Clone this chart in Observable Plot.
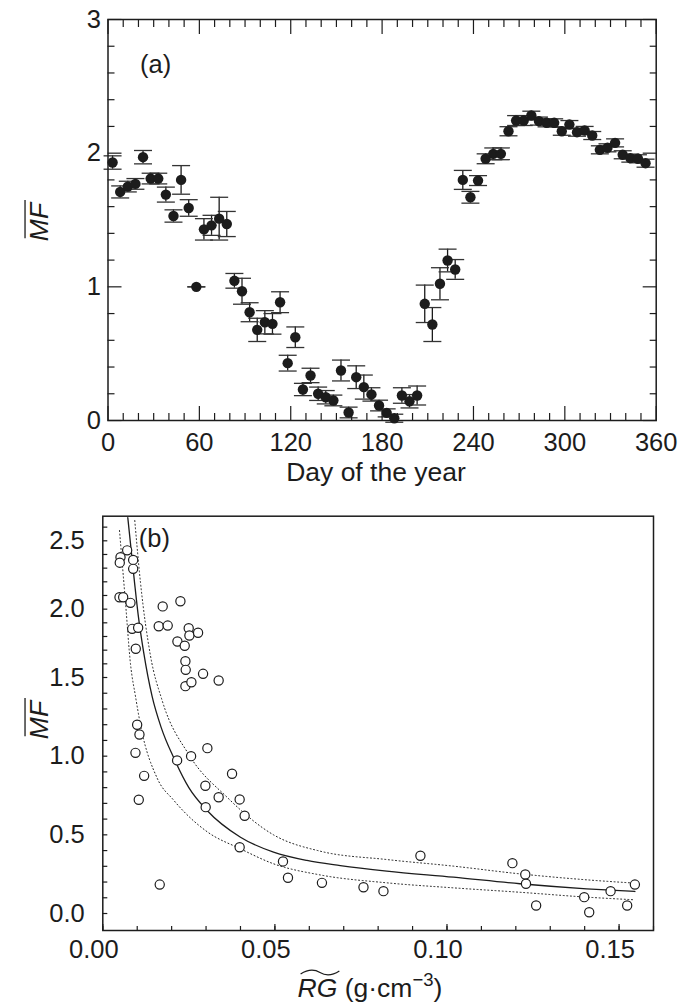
<!DOCTYPE html>
<html><head><meta charset="utf-8">
<script src="https://cdn.jsdelivr.net/npm/d3@7"></script>
<script src="https://cdn.jsdelivr.net/npm/@observablehq/plot@0.6"></script>
<style>
body{margin:0;background:#fff;}
#wrap{position:relative;width:689px;height:1004px;overflow:hidden;background:#fff;}
#wrap svg{position:absolute;left:0;}
</style></head><body><div id="wrap"></div>
<script>
// ---------- Panel (a): mean MF by day of the year ----------
const days = [3,8,13,18,23,28,33,38,43,48,53,58,63,68,73,78,83,88,93,98,103,108,113,118,123,128,133,138,143,148,153,158,163,168,173,178,183,188,193,198,203,208,213,218,223,228,233,238,243,248,253,258,263,268,273,278,283,288,293,298,303,308,313,318,323,328,333,338,343,348,353];
const mfMean = [1.93,1.71,1.75,1.77,1.97,1.81,1.81,1.69,1.53,1.80,1.59,1.00,1.43,1.46,1.51,1.47,1.045,0.967,0.81,0.678,0.735,0.723,0.885,0.429,0.623,0.232,0.337,0.20,0.174,0.15,0.374,0.06,0.324,0.25,0.195,0.112,0.057,0.017,0.187,0.144,0.187,0.873,0.718,1.023,1.197,1.13,1.80,1.67,1.795,1.958,1.995,1.995,2.164,2.244,2.244,2.282,2.24,2.227,2.227,2.164,2.214,2.157,2.17,2.132,2.025,2.04,2.077,1.988,1.963,1.958,1.925];
const mfErr = [0.05,0.045,0.04,0.04,0.05,0.04,0.04,0.056,0.046,0.107,0.062,0,0.08,0.075,0.16,0.094,0.055,0.097,0.071,0.087,0.087,0.077,0.078,0.059,0.077,0.046,0.054,0.05,0.05,0.04,0.078,0.04,0.085,0.09,0.05,0.04,0.03,0.03,0.058,0.05,0.071,0.14,0.127,0.12,0.085,0.074,0.071,0.044,0.037,0.037,0.044,0.044,0.034,0.037,0.037,0.032,0.03,0.03,0.03,0.03,0.03,0.03,0.03,0.03,0.03,0.03,0.03,0.03,0.03,0.03,0.03];
const xTickLabelsA = [0,60,120,180,240,300,360];
const yTickLabelsA = [0,1,2,3];

// ---------- Panel (b): MF vs RG ----------
const rg = [0.00708,0.00514,0.00493,0.00882,0.00882,0.00485,0.00592,0.00804,0.00853,0.01027,0.00958,0.0174,0.02255,0.01625,0.01886,0.02168,0.0238,0.02496,0.02516,0.02768,0.024,0.02409,0.024,0.02574,0.02913,0.03366,0.00998,0.01065,0.00949,0.01201,0.01045,0.01654,0.02159,0.02565,0.03038,0.0298,0.03366,0.03755,0.02989,0.03976,0.04121,0.03976,0.05235,0.0538,0.06367,0.09228,0.07574,0.08154,0.119,0.12275,0.12295,0.1259,0.13987,0.14132,0.14753,0.15235,0.15459];
const mfB = [2.43,2.38,2.34,2.36,2.295,2.087,2.087,2.046,1.856,1.864,1.71,2.02,2.058,1.875,1.88,1.763,1.732,1.86,1.807,1.827,1.619,1.556,1.445,1.47,1.527,1.481,1.2,1.138,1.021,0.875,0.723,0.184,0.973,1.0,1.051,0.812,0.739,0.888,0.676,0.725,0.621,0.421,0.331,0.227,0.195,0.367,0.167,0.142,0.32,0.248,0.189,0.051,0.104,0.008,0.142,0.051,0.184];
const fitRG = [0.00726,0.0092,0.01027,0.0119,0.01433,0.0170,0.0206,0.0250,0.0303,0.0400,0.0496,0.0593,0.0690,0.0825,0.1019,0.1212,0.1406,0.1546];
const fitMF = [2.67,2.20,1.96,1.68,1.38,1.18,0.99,0.80,0.655,0.485,0.39,0.337,0.305,0.27,0.231,0.189,0.157,0.14];
const upRG = [0.00929,0.01094,0.01384,0.01724,0.0250,0.0361,0.0496,0.0632,0.0825,0.1019,0.1212,0.1406,0.1546];
const upMF = [2.648,2.197,1.661,1.354,1.01,0.739,0.50,0.396,0.343,0.301,0.252,0.214,0.193];
const loRG = [0.00485,0.00659,0.00804,0.0095,0.01094,0.0158,0.0206,0.0303,0.0400,0.0496,0.0632,0.0825,0.1019,0.1212,0.1406,0.1546];
const loMF = [2.575,2.05,1.60,1.38,1.20,0.86,0.72,0.52,0.411,0.316,0.245,0.195,0.163,0.135,0.104,0.087];
const xTickLabelsB = [0,0.05,0.10,0.15];
const yTickLabelsB = [0,0.5,1.0,1.5,2.0,2.5];

const ink = "#1c1c1c";
const font = "'Liberation Sans', Arial, Helvetica, sans-serif";
const FS = 25.5;   // tick labels, panel letters
const FT = 26.5;   // axis titles

const dataA = days.map((d, i) => ({day: d, mf: mfMean[i], err: mfErr[i]}));
const dataB = rg.map((r, i) => ({rg: r, mf: mfB[i]}));
const fitLine = fitRG.map((r, i) => ({rg: r, mf: fitMF[i]}));
const upLine = upRG.map((r, i) => ({rg: r, mf: upMF[i]}));
const loLine = loRG.map((r, i) => ({rg: r, mf: loMF[i]}));

const capSymbol = {draw(ctx) { ctx.moveTo(-9, 0); ctx.lineTo(9, 0); }};

const wrap = document.getElementById("wrap");

// inward ticks on one side of the frame
function inTicks(axisFn, anchor, ticks, size) {
  const o = {anchor, ticks, tickSize: size, tickFormat: () => "", label: null, stroke: ink, strokeWidth: 1.2};
  if (anchor === "bottom") o.dy = -size;
  if (anchor === "top") o.dy = size;
  if (anchor === "left") o.dx = size;
  if (anchor === "right") o.dx = -size;
  return axisFn(o);
}

// ---------------- Panel A ----------------
const minorXA = d3.range(0, 361, 10).filter(d => d % 60 !== 0);
const minorYA = d3.range(0, 16).map(i => i / 5).filter(v => Math.abs(v - Math.round(v)) > 1e-6);

const plotA = Plot.plot({
  width: 689, height: 500,
  marginLeft: 107.5, marginRight: 33.3, marginTop: 19, marginBottom: 80,
  x: {domain: [0, 360]},
  y: {domain: [0, 3]},
  style: {fontFamily: font, fontSize: FS + "px", color: ink, background: "white", overflow: "visible"},
  marks: [
    Plot.ruleX(dataA, {x: "day", y1: d => d.mf - d.err, y2: d => d.mf + d.err, stroke: ink, strokeWidth: 1.3}),
    Plot.dot(dataA, {x: "day", y: d => d.mf + d.err, symbol: capSymbol, fill: "none", stroke: "#333", strokeWidth: 1.3}),
    Plot.dot(dataA, {x: "day", y: d => d.mf - d.err, symbol: capSymbol, fill: "none", stroke: "#333", strokeWidth: 1.3}),
    Plot.dot(dataA, {x: "day", y: "mf", r: 5.2, fill: ink, stroke: "none"}),
    inTicks(Plot.axisX, "bottom", minorXA, 7),
    inTicks(Plot.axisX, "bottom", xTickLabelsA, 14),
    inTicks(Plot.axisX, "top", minorXA, 7),
    inTicks(Plot.axisX, "top", xTickLabelsA, 14),
    inTicks(Plot.axisY, "left", minorYA, 7),
    inTicks(Plot.axisY, "left", yTickLabelsA, 14),
    inTicks(Plot.axisY, "right", minorYA, 7),
    inTicks(Plot.axisY, "right", yTickLabelsA, 14),
    Plot.axisX({anchor: "bottom", ticks: xTickLabelsA, tickSize: 0, tickPadding: 12, tickFormat: d3.format("d"), label: null, fontSize: FS, fill: ink}),
    Plot.axisY({anchor: "left", ticks: yTickLabelsA, tickSize: 0, tickPadding: 7, tickFormat: d3.format("d"), label: null, fontSize: FS, fill: ink}),
    Plot.frame({stroke: ink, strokeWidth: 1.5}),
    Plot.text(["(a)"], {frameAnchor: "top-left", lineAnchor: "middle", dx: 32, dy: 45, textAnchor: "start", fontSize: FS, fill: ink})
  ]
});
plotA.style.top = "0px";
wrap.appendChild(plotA);

// ---------------- Panel B ----------------
const minorXB = d3.range(0, 17).map(i => i / 100);
const minorYB = d3.range(0, 27).map(i => i / 10);

const plotB = Plot.plot({
  width: 689, height: 504,
  marginLeft: 102.3, marginRight: 36, marginTop: 15.7, marginBottom: 74,
  x: {domain: [0, 0.16]},
  y: {type: "linear", domain: [-0.108, 1.5, 2.68], range: [430, 177, 15.7]},
  style: {fontFamily: font, fontSize: FS + "px", color: ink, background: "white", overflow: "visible"},
  marks: [
    Plot.line(upLine, {x: "rg", y: "mf", curve: "monotone-x", stroke: ink, strokeWidth: 1, strokeDasharray: "1,2.6"}),
    Plot.line(loLine, {x: "rg", y: "mf", curve: "monotone-x", stroke: ink, strokeWidth: 1, strokeDasharray: "1,2.6"}),
    Plot.line(fitLine, {x: "rg", y: "mf", curve: "monotone-x", stroke: ink, strokeWidth: 1.3}),
    Plot.dot(dataB, {x: "rg", y: "mf", r: 4.6, fill: "white", stroke: ink, strokeWidth: 1.2}),
    inTicks(Plot.axisX, "bottom", minorXB, 4),
    inTicks(Plot.axisX, "bottom", xTickLabelsB, 6),
    inTicks(Plot.axisY, "left", minorYB, 5),
    Plot.axisX({anchor: "bottom", ticks: xTickLabelsB, tickSize: 0, tickPadding: 9, dx: -9, tickFormat: d3.format(".2f"), label: null, fontSize: FS, fill: ink}),
    Plot.axisY({anchor: "left", ticks: yTickLabelsB, tickSize: 0, tickPadding: 18, tickFormat: d3.format(".1f"), label: null, fontSize: FS, fill: ink}),
    Plot.frame({stroke: ink, strokeWidth: 1.5}),
    Plot.text(["(b)"], {frameAnchor: "top-left", lineAnchor: "middle", dx: 36, dy: 23, textAnchor: "start", fontSize: FS, fill: ink})
  ]
});
plotB.style.top = "500px";
wrap.appendChild(plotB);

// ---------------- Axis titles ----------------
function mfTitle(svg, x, y) {
  const g = d3.select(svg).append("g").attr("transform", `translate(${x},${y}) rotate(-90)`);
  const t = g.append("text").attr("x", 0).attr("y", 0).attr("text-anchor", "middle")
    .attr("font-family", font).attr("font-size", FT).attr("font-style", "italic").attr("fill", ink).text("MF");
  const bb = t.node().getBBox();
  const yl = -0.716 * FT - 4;
  g.append("line").attr("x1", bb.x + 3).attr("x2", bb.x + bb.width + 1).attr("y1", yl).attr("y2", yl)
    .attr("stroke", ink).attr("stroke-width", 1.3);
}
mfTitle(plotA, 48, 222);
mfTitle(plotB, 48, 220);

d3.select(plotA).append("text").attr("x", 376).attr("y", 481).attr("text-anchor", "middle")
  .attr("font-family", font).attr("font-size", FT).attr("fill", ink).text("Day of the year");

{
  const t = d3.select(plotB).append("text").attr("x", 370).attr("y", 496.5).attr("text-anchor", "middle")
    .attr("font-family", font).attr("font-size", FT).attr("fill", ink);
  t.append("tspan").attr("font-style", "italic").text("RG");
  t.append("tspan").text(" (g·cm");
  t.append("tspan").attr("font-size", FT * 0.7).attr("dy", -11).text("−3");
  t.append("tspan").attr("dy", 11).text(")");
  const n = t.node();
  const x0 = n.getStartPositionOfChar(0).x + 3;
  const x1 = n.getEndPositionOfChar(1).x + 2;
  const yb = 496.5 - 0.716 * FT - 5;
  const w = x1 - x0;
  d3.select(plotB).append("path")
    .attr("d", `M${x0},${yb + 1.5} C${x0 + w * 0.2},${yb - 3.5} ${x0 + w * 0.35},${yb - 3.5} ${x0 + w * 0.5},${yb} S${x0 + w * 0.8},${yb + 3.5} ${x1},${yb - 1.5}`)
    .attr("fill", "none").attr("stroke", ink).attr("stroke-width", 1.3);
}
</script></body></html>
